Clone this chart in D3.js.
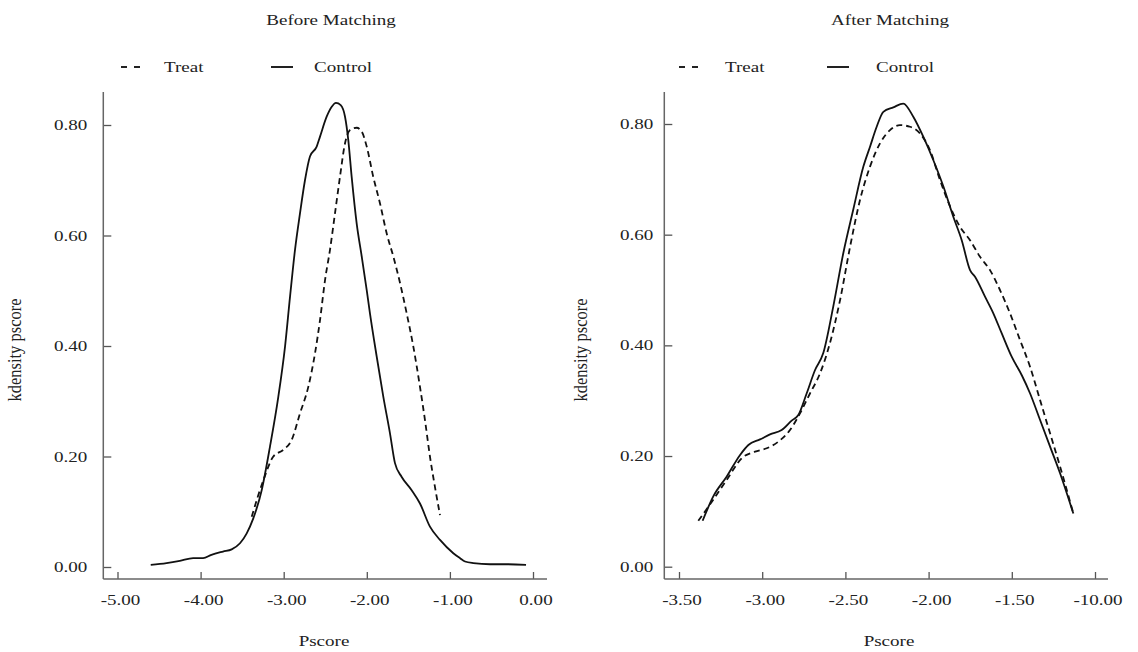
<!DOCTYPE html>
<html>
<head>
<meta charset="utf-8">
<script src="https://cdn.jsdelivr.net/npm/d3@7"></script>
<style>
  body { margin: 0; background: #fff; }
  text { font-family: "Liberation Serif", "Times New Roman", serif; fill: #222; }
</style>
</head>
<body>
<svg id="chart" width="1138" height="652"></svg>
<script>
// ---- data ----
var yTicks = [0, 0.2, 0.4, 0.6, 0.8];
var yLabels = ["0.00", "0.20", "0.40", "0.60", "0.80"];

var beforeXTicks = [-5, -4, -3, -2, -1, 0];
var beforeXLabels = ["-5.00", "-4.00", "-3.00", "-2.00", "-1.00", "0.00"];
var afterXTicks = [-3.5, -3, -2.5, -2, -1.5, -1];
var afterXLabels = ["-3.50", "-3.00", "-2.50", "-2.00", "-1.50", "-10.00"];

var beforeControl = [
  [-4.60,0.004],[-4.41,0.007],[-4.25,0.011],[-4.09,0.016],[-3.97,0.016],[-3.87,0.022],
  [-3.73,0.028],[-3.626,0.032],[-3.526,0.043],[-3.445,0.061],[-3.366,0.088],[-3.265,0.139],
  [-3.165,0.218],[-3.065,0.308],[-2.984,0.399],[-2.924,0.489],[-2.864,0.574],[-2.804,0.640],
  [-2.744,0.700],[-2.684,0.743],[-2.603,0.761],[-2.563,0.779],[-2.483,0.815],[-2.422,0.833],
  [-2.371,0.840],[-2.314,0.836],[-2.262,0.815],[-2.223,0.773],[-2.182,0.706],[-2.122,0.622],
  [-2.061,0.562],[-2.001,0.501],[-1.962,0.459],[-1.881,0.381],[-1.801,0.308],[-1.721,0.242],
  [-1.661,0.188],[-1.580,0.163],[-1.460,0.139],[-1.360,0.115],[-1.240,0.073],[-1.119,0.049],
  [-0.959,0.025],[-0.878,0.016],[-0.818,0.010],[-0.718,0.007],[-0.517,0.005],[-0.317,0.005],
  [-0.084,0.004]
];
var beforeTreat = [
  [-3.385,0.091],[-3.245,0.157],[-3.125,0.200],[-3.005,0.212],[-2.904,0.230],[-2.804,0.278],
  [-2.704,0.326],[-2.623,0.387],[-2.563,0.447],[-2.503,0.519],[-2.443,0.574],[-2.383,0.640],
  [-2.323,0.706],[-2.262,0.767],[-2.202,0.791],[-2.122,0.795],[-2.061,0.788],[-2.001,0.761],
  [-1.922,0.706],[-1.841,0.658],[-1.761,0.604],[-1.681,0.562],[-1.600,0.514],[-1.520,0.459],
  [-1.440,0.399],[-1.360,0.326],[-1.300,0.266],[-1.240,0.200],[-1.180,0.145],[-1.119,0.094]
];
var afterControl = [
  [-3.358,0.083],[-3.294,0.127],[-3.213,0.163],[-3.133,0.202],[-3.083,0.220],[-3.013,0.230],
  [-2.953,0.239],[-2.883,0.247],[-2.823,0.264],[-2.783,0.274],[-2.733,0.313],[-2.683,0.355],
  [-2.633,0.386],[-2.573,0.470],[-2.513,0.566],[-2.453,0.645],[-2.392,0.723],[-2.352,0.759],
  [-2.312,0.795],[-2.272,0.822],[-2.212,0.830],[-2.152,0.837],[-2.092,0.813],[-2.032,0.777],
  [-1.972,0.735],[-1.911,0.687],[-1.851,0.632],[-1.801,0.590],[-1.751,0.536],[-1.721,0.524],
  [-1.661,0.488],[-1.611,0.458],[-1.561,0.422],[-1.500,0.379],[-1.440,0.346],[-1.390,0.313],
  [-1.330,0.265],[-1.270,0.217],[-1.210,0.169],[-1.130,0.096]
];
var afterTreat = [
  [-3.384,0.083],[-3.294,0.121],[-3.213,0.157],[-3.123,0.196],[-3.043,0.208],[-2.973,0.214],
  [-2.903,0.226],[-2.833,0.247],[-2.773,0.277],[-2.713,0.313],[-2.653,0.349],[-2.593,0.404],
  [-2.532,0.482],[-2.472,0.578],[-2.412,0.663],[-2.352,0.723],[-2.292,0.765],[-2.232,0.789],
  [-2.172,0.798],[-2.112,0.795],[-2.052,0.783],[-1.992,0.753],[-1.932,0.699],[-1.871,0.651],
  [-1.811,0.614],[-1.751,0.590],[-1.691,0.560],[-1.631,0.536],[-1.571,0.500],[-1.511,0.458],
  [-1.451,0.410],[-1.390,0.361],[-1.330,0.301],[-1.270,0.241],[-1.210,0.181],[-1.130,0.096]
];

// ---- layout ----
var STRETCH = 1.27;   // the picture's text is a bit wide
var FS = 15;
var svg = d3.select("#chart");

var panels = [
  { title: "Before Matching", titleX: 331, treat: beforeTreat, control: beforeControl,
    xDomain: [-5, 0], xRange: [117.5, 533], yRange: [567, 125],
    axisX: 103.3, axisRight: 547, labelGap: 16, pscoreX: 324, ylabX: 21,
    legend: { dash: 121, treat: 164, line: 271, control: 314 },
    xTicks: beforeXTicks, xLabels: beforeXLabels },
  { title: "After Matching", titleX: 890, treat: afterTreat, control: afterControl,
    xDomain: [-3.5, -1], xRange: [679, 1095], yRange: [566.7, 124],
    axisX: 664.3, axisRight: 1108, labelGap: 11, pscoreX: 889, ylabX: 587,
    legend: { dash: 679, treat: 725, line: 827, control: 876 },
    xTicks: afterXTicks, xLabels: afterXLabels }
];

var axisY = 579, axisTop = 92;

function stretchedText(g, x, y, str, anchor, size){
  return g.append("text")
    .attr("transform", "translate(" + x + "," + y + ") scale(" + STRETCH + ",1)")
    .attr("text-anchor", anchor)
    .style("font-size", size + "px")
    .text(str);
}

panels.forEach(function(p){
  var g = svg.append("g");
  var x = d3.scaleLinear().domain(p.xDomain).range(p.xRange);
  var y = d3.scaleLinear().domain([0, 0.8]).range(p.yRange);

  // axes (ticks point inward)
  g.append("g")
    .attr("transform", "translate(" + p.axisX + ",0)")
    .call(d3.axisLeft(y).tickValues(yTicks).tickSize(-8).tickSizeOuter(0).tickFormat(""));
  g.append("g")
    .attr("transform", "translate(0," + axisY + ")")
    .call(d3.axisBottom(x).tickValues(p.xTicks).tickSize(-7).tickSizeOuter(0).tickFormat(""));
  g.selectAll(".domain").remove();
  g.selectAll(".tick line").attr("stroke", "#555").attr("stroke-width", 1.3);

  g.append("line")
    .attr("x1", p.axisX).attr("x2", p.axisX).attr("y1", axisTop).attr("y2", axisY)
    .attr("stroke", "#666").attr("stroke-width", 1.5);
  g.append("line")
    .attr("x1", p.axisX).attr("x2", p.axisRight).attr("y1", axisY).attr("y2", axisY)
    .attr("stroke", "#666").attr("stroke-width", 1.5);

  // tick labels
  yTicks.forEach(function(v, i){
    stretchedText(g, p.axisX - p.labelGap, y(v) + 5, yLabels[i], "end", FS);
  });
  p.xTicks.forEach(function(v, i){
    stretchedText(g, x(v) + 3, 605, p.xLabels[i], "middle", FS);
  });

  // titles
  stretchedText(g, p.titleX, 25, p.title, "middle", FS);
  stretchedText(g, p.pscoreX, 646, "Pscore", "middle", FS);
  g.append("text")
    .attr("transform", "translate(" + p.ylabX + ",350) rotate(-90) scale(1.1," + STRETCH + ")")
    .attr("text-anchor", "middle")
    .style("font-size", "15px")
    .text("kdensity pscore");

  // legend
  var ly = 67;
  g.append("line")
    .attr("x1", p.legend.dash).attr("x2", p.legend.dash + 19).attr("y1", ly).attr("y2", ly)
    .attr("stroke", "#222").attr("stroke-width", 2).attr("stroke-dasharray", "6,7");
  stretchedText(g, p.legend.treat, ly + 5, "Treat", "start", FS);
  g.append("line")
    .attr("x1", p.legend.line).attr("x2", p.legend.line + 22).attr("y1", ly).attr("y2", ly)
    .attr("stroke", "#222").attr("stroke-width", 2);
  stretchedText(g, p.legend.control, ly + 5, "Control", "start", FS);

  // curves
  var line = d3.line()
    .x(function(d){ return x(d[0]); })
    .y(function(d){ return y(d[1]); })
    .curve(d3.curveMonotoneX);

  g.append("path").datum(p.control)
    .attr("fill", "none").attr("stroke", "#111").attr("stroke-width", 1.8)
    .attr("d", line);
  g.append("path").datum(p.treat)
    .attr("fill", "none").attr("stroke", "#111").attr("stroke-width", 1.8)
    .attr("stroke-dasharray", "6,4")
    .attr("d", line);
});
</script>
</body>
</html>
